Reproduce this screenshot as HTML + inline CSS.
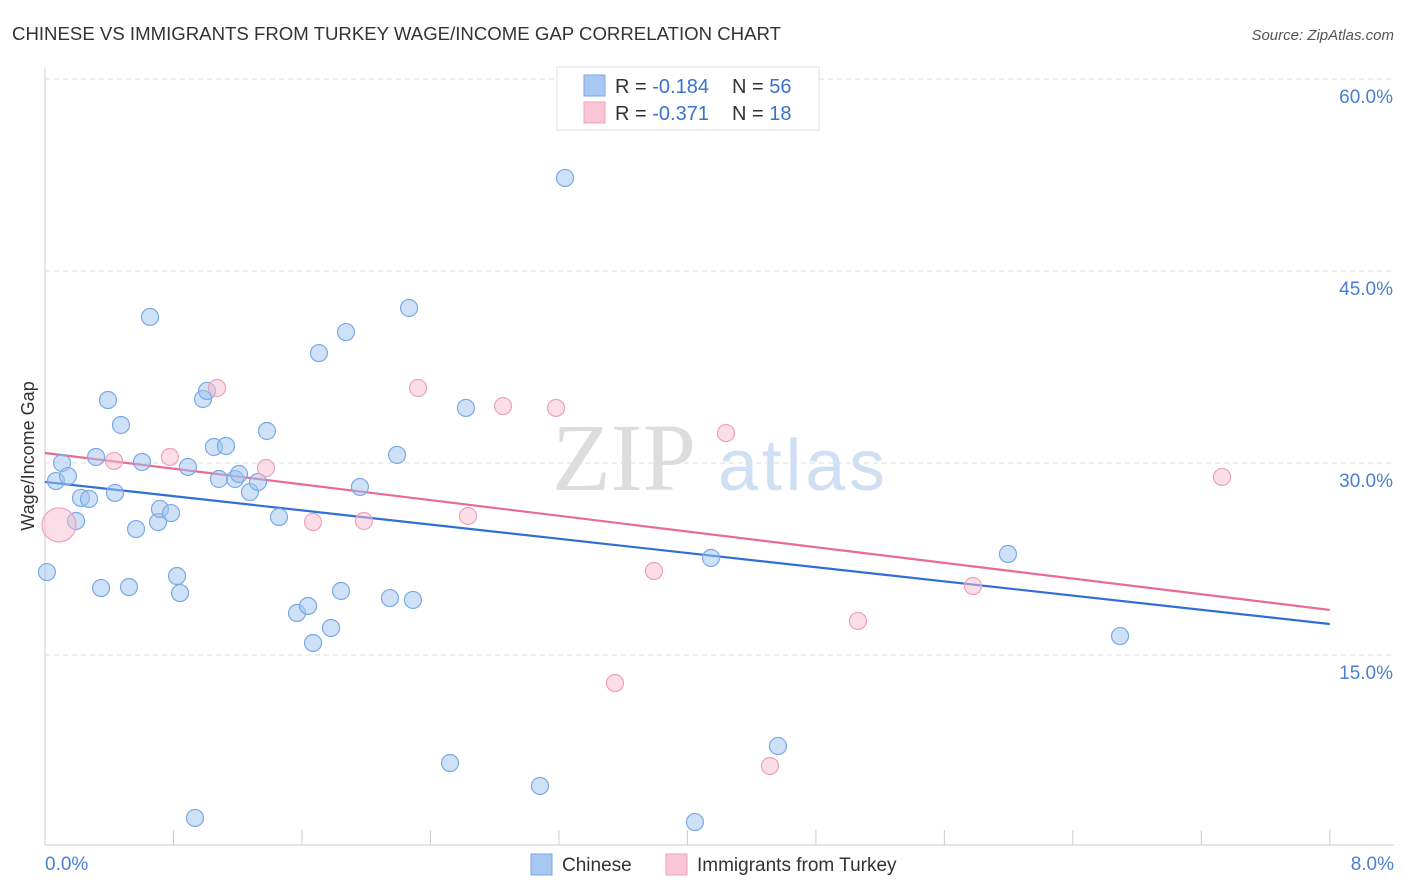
<!DOCTYPE html>
<html><head><meta charset="utf-8"><style>
body{margin:0;background:#fff;font-family:"Liberation Sans",sans-serif}
svg{display:block}
</style></head><body>
<svg id="c" width="1406" height="892" xmlns="http://www.w3.org/2000/svg">
<text x="12" y="40" font-size="18" fill="#333" textLength="769" lengthAdjust="spacingAndGlyphs">CHINESE VS IMMIGRANTS FROM TURKEY WAGE/INCOME GAP CORRELATION CHART</text>
<text x="1394" y="40" font-size="15" fill="#555" font-style="italic" text-anchor="end">Source: ZipAtlas.com</text>
<g><text x="552" y="490" font-size="96" fill="#ddd" font-family="Liberation Serif,serif">ZIP</text><text x="718" y="490" font-size="72" fill="#cfe0f5" textLength="167">atlas</text></g>
<g id="grid"></g><g id="axes"></g><g id="lines"></g><g id="pts"></g>
<text transform="translate(34,456) rotate(-90)" font-size="18" fill="#333" text-anchor="middle">Wage/Income Gap</text>
<text x="45" y="870" font-size="19" fill="#4a7fd4">0.0%</text>
<text x="1394" y="870" font-size="19" fill="#4a7fd4" text-anchor="end">8.0%</text>
<g>
<rect x="557" y="67" width="262" height="63" fill="#fff" stroke="#ddd"/>
<rect x="584" y="75" width="21" height="21" fill="#a8c8f2" stroke="#7aa9e6"/>
<rect x="584" y="102" width="21" height="21" fill="#f8c6d6" stroke="#f0a0bb"/>
<text x="615" y="93" font-size="20" fill="#333">R = <tspan fill="#3a72d0">-0.184</tspan><tspan x="732">N = </tspan><tspan fill="#3a72d0">56</tspan></text>
<text x="615" y="120" font-size="20" fill="#333">R = <tspan fill="#3a72d0">-0.371</tspan><tspan x="732">N = </tspan><tspan fill="#3a72d0"> 18</tspan></text>
</g>
<g>
<rect x="531" y="854" width="21" height="21" fill="#a8c8f2" stroke="#7aa9e6"/>
<text x="562" y="871" font-size="19" fill="#333">Chinese</text>
<rect x="666" y="854" width="21" height="21" fill="#f8c6d6" stroke="#f0a0bb"/>
<text x="697" y="871" font-size="19" fill="#333">Immigrants from Turkey</text>
</g>
</svg>
<script>
const yTicks=[15,30,45,60];
const yTickLabels=["15.0%","30.0%","45.0%","60.0%"];
const xTicks=[0,0.8,1.6,2.4,3.2,4.0,4.8,5.6,6.4,7.2,8.0];
const blueX=[0.012,0.068,0.106,0.143,0.193,0.224,0.274,0.318,0.349,0.392,0.436,0.473,0.523,0.567,0.604,0.654,0.704,0.716,0.785,0.822,0.841,0.890,0.934,0.984,1.009,1.052,1.083,1.127,1.183,1.208,1.276,1.326,1.382,1.457,1.569,1.638,1.669,1.706,1.781,1.843,1.874,1.961,2.148,2.192,2.267,2.291,2.522,2.621,3.082,3.238,4.047,4.147,4.564,5.996,6.694];
const blueY=[21.48,28.59,30.0,28.98,25.47,27.27,27.19,30.47,20.23,34.92,27.66,32.97,20.31,24.84,30.08,41.41,25.39,26.41,26.09,21.17,19.84,29.69,2.27,35.0,35.63,31.25,28.75,31.33,28.75,29.14,27.73,28.52,32.5,25.78,18.28,18.83,15.94,38.59,17.11,20.0,40.23,28.13,19.45,30.63,42.11,19.30,6.56,34.3,4.77,52.27,1.95,22.58,7.89,22.89,16.48];
const pinkX=[0.087,0.430,0.778,1.071,1.376,1.669,1.986,2.323,2.634,2.852,3.182,3.549,3.792,4.240,4.514,5.062,5.778,7.329];
const pinkY=[25.16,30.16,30.47,35.86,29.61,25.39,25.47,35.86,25.86,34.45,34.30,12.81,21.56,32.34,6.33,17.66,20.39,28.91];
const blueTrend=[28.52,17.42];
const pinkTrend=[30.78,18.52];
const X=v=>45+v*160.6, Y=v=>79+(60-v)*12.8;
const NS="http://www.w3.org/2000/svg";
function mk(t,a,p){const e=document.createElementNS(NS,t);for(const k in a)e.setAttribute(k,a[k]);document.getElementById(p).appendChild(e);return e;}
yTicks.forEach((t,i)=>{
 const l=mk('line',{x1:45,x2:1394,y1:Y(t),y2:Y(t),stroke:'#ddd','stroke-dasharray':'5,4'},'grid');
 
 
 const tx=mk('text',{x:1393,y:Y(t)+24,'font-size':19,fill:'#4a7fd4','text-anchor':'end'},'grid');
 tx.textContent=yTickLabels[i];
 
 
});
const ax=mk('line',{x1:45,x2:1394,y1:845,y2:845,stroke:'#ccc'},'axes');


const ay=mk('line',{x1:45,x2:45,y1:68,y2:845,stroke:'#ccc'},'axes');


xTicks.forEach(t=>{
 const l=mk('line',{x1:X(t),x2:X(t),y1:830,y2:845,stroke:'#ccc'},'axes');
 
 
});
function pts(xs,ys,fill,stroke,name){
 xs.forEach((x,i)=>{
  const c=mk('circle',{cx:X(x),cy:Y(ys[i]),r:8.5,fill:fill,stroke:stroke,'stroke-width':1.2},'pts');
  
  
 });
}
pts(blueX,blueY,'rgba(160,196,240,0.5)','#7aa9e6','chinese-point');
pts(pinkX,pinkY,'rgba(248,190,210,0.5)','#f0a0bb','turkey-point');
document.querySelectorAll('#pts circle')[55].setAttribute('r',17);
const bl=mk('line',{x1:X(0),y1:Y(blueTrend[0]),x2:X(8),y2:Y(blueTrend[1]),stroke:'#2f6fd6','stroke-width':2.2},'lines');


const pl=mk('line',{x1:X(0),y1:Y(pinkTrend[0]),x2:X(8),y2:Y(pinkTrend[1]),stroke:'#e86a95','stroke-width':2.2},'lines');


</script>
</body></html>
